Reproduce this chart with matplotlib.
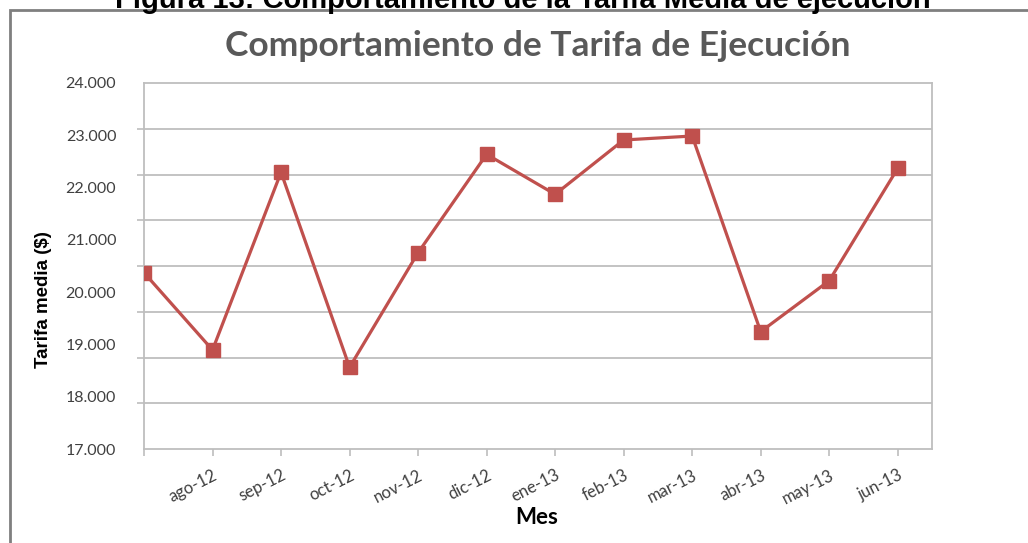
import numpy as np
import matplotlib
matplotlib.use('Agg')
import matplotlib.pyplot as plt
from matplotlib.patches import Rectangle

meses = ['jul-12', 'ago-12', 'sep-12', 'oct-12', 'nov-12', 'dic-12',
         'ene-13', 'feb-13', 'mar-13', 'abr-13', 'may-13', 'jun-13']
tarifa = [20372, 18894, 22292, 18563, 20755, 22636,
          21871, 22910, 22986, 19244, 20219, 22369]
ytick_vals = [17000, 18000, 19000, 20000, 21000, 22000, 23000, 24000]
ytick_text = ['17.000', '18.000', '19.000', '20.000', '21.000', '22.000', '23.000', '24.000']

W, H = 1028, 543
fig = plt.figure(figsize=(W / 100, H / 100), dpi=100)
ax = fig.add_axes([144 / W, 1 - 449 / H, (932 - 144) / W, (449 - 83) / H])

x = np.arange(len(meses))
ax.plot(x, tarifa, color='#C0504D', lw=2.3, marker='s', markersize=10,
        markerfacecolor='#C0504D', markeredgecolor='#C0504D', zorder=3)

ax.set_xlim(0, 11.5)
ax.set_ylim(17000, 24000)

# gridlines (8 intervals) drawn as minor ticks
ax.set_yticks(np.linspace(17000, 24000, 9), minor=True)
ax.yaxis.grid(True, which='minor', color='#BEBEBE', lw=1.3)
ax.set_yticks(ytick_vals)
ax.set_yticklabels(ytick_text, fontsize=11.5, color='#404040', family='Lato')
ax.tick_params(axis='y', which='major', length=0, pad=20)
ax.tick_params(axis='y', which='minor', length=5, color='#BEBEBE', width=1.2)

ax.set_xticks(x)
ax.set_xticklabels([''] + meses[1:], rotation=27, ha='right',
                   rotation_mode='anchor', fontsize=12, color='#404040', family='Lato')
ax.tick_params(axis='x', length=5, color='#BEBEBE', width=1.2, pad=8)

for s in ax.spines.values():
    s.set_color('#BEBEBE')
    s.set_linewidth(1.3)

fig.text(538 / W, 1 - 46 / H, 'Comportamiento de Tarifa de Ejecución', ha='center', va='center',
         fontsize=25.5, fontweight='bold', color='#595959', family='Lato')
fig.text(43 / W, 1 - 300 / H, 'Tarifa media ($)', rotation=90, ha='center', va='center',
         fontsize=13.5, fontweight='bold', color='black', family='Liberation Sans')
fig.text(537 / W, 1 - 517 / H, 'Mes', ha='center', va='center',
         fontsize=16, fontweight='bold', color='black', family='Lato')
fig.text(523 / W, 1 - 8 / H, 'Figura 13: Comportamiento de la Tarifa Media de ejecución',
         ha='center', va='baseline', fontsize=21, fontweight='bold', color='black',
         family='Liberation Sans')

# outer frame of the pasted chart
fig.add_artist(Rectangle((10 / W, -0.1), 1.2, 1 - 10 / H + 0.1, transform=fig.transFigure,
                         fill=False, edgecolor='#7F7F7F', lw=2))

fig.savefig('out.png', dpi=100)
